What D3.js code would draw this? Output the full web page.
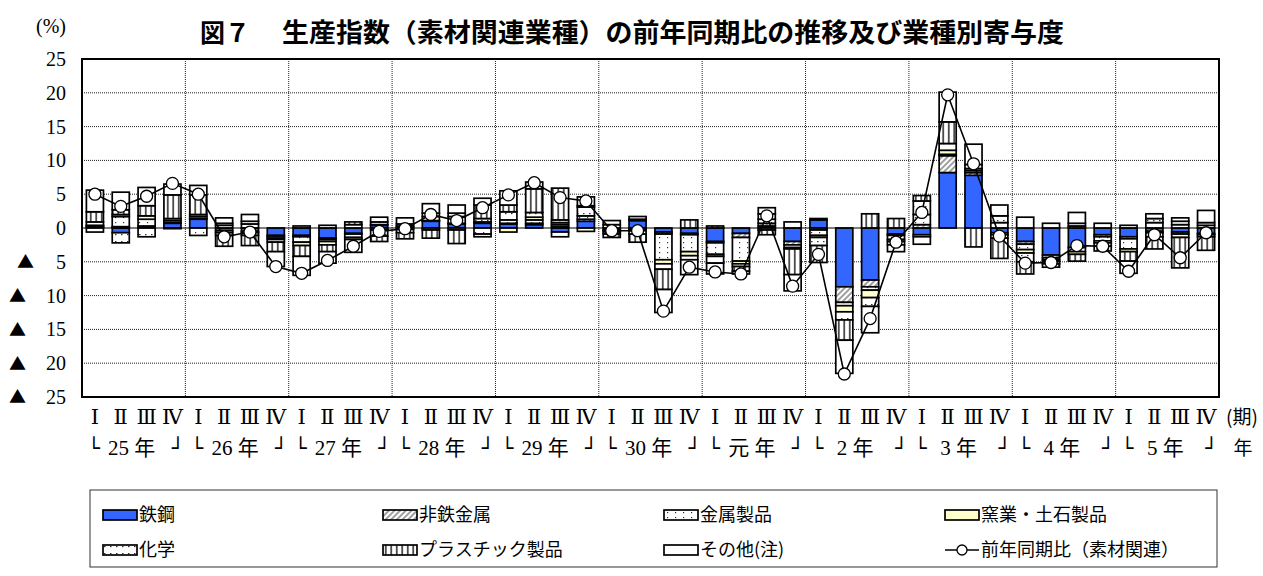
<!DOCTYPE html>
<html lang="ja">
<head>
<meta charset="utf-8">
<script src="https://cdn.jsdelivr.net/npm/d3@7"></script>
<style>
  body { margin: 0; background: #fff; }
  svg { display: block; }
</style>
</head>
<body>
<div id="vis"></div>
<script>
// quarters H25 I .. R5 IV
const years = ["25 年", "26 年", "27 年", "28 年", "29 年", "30 年",
    "元 年", "2 年", "3 年", "4 年", "5 年"];
const quarterNames = ["Ⅰ", "Ⅱ", "Ⅲ", "Ⅳ"];

const steel = [0.2, -0.7, 0, 0.7, 1.3, -0.4, -0.5, -1.1, -1.1, -1.5, -0.8, 0.4,
    0.2, 1.0, 0.6, 0.7, 0.6, 0.5, -0.6, 1.0, -0.3, 1.1, -0.6, -0.8,
    -2.0, -0.8, 0.3, -2.0, 1.2, -8.7, -7.7, -0.9, -1.0, 8.2, 7.8, -0.7,
    -2.0, -4.0, -2.9, -1.0, -1.3, -0.5, -0.6, -0.8];
const nonferrous = [0.1, 0.2, 0.3, 0.1, 0.1, -0.3, -0.2, -0.1, -0.2, -0.2, -0.1, 0.1,
    0.1, 0.1, 0.1, 0.2, 0.1, 0.2, 0.2, 0.3, -0.1, -0.2, -0.3, -0.2,
    -0.2, -0.6, 0.4, -0.5, -0.3, -2.3, -1.0, -0.2, 0.5, 2.5, 0.4, -0.3,
    -0.4, -0.4, 0.3, -0.3, -0.3, -0.2, -0.3, -0.2];
const metal = [-0.6, 1.5, 1.0, -0.1, -1.1, 0.4, 0.6, -0.3, -0.8, -0.3, -0.5, 0.4,
    0.3, 0.6, 1.0, -0.9, 0.5, 0.5, 0.3, 0.5, 0.5, 0.2, -3.8, -2.5,
    -1.7, -3.5, 0.6, -0.4, -0.8, -0.5, -0.5, -0.6, 1.5, 0.2, 0.3, 0.8,
    -0.8, -0.3, -0.6, -0.6, -1.5, 0.8, 0.5, 0.4];
const ceramics = [0.1, 0.3, 0.5, 0.3, 0.3, -0.4, -0.4, -0.2, -0.5, -0.5, -0.3, -0.3,
    -0.2, -0.3, -0.3, -0.4, -0.6, 0.4, 0.3, -0.5, -0.2, -0.2, -0.6, -0.6,
    -0.3, -0.4, -0.3, -0.2, -0.3, -0.9, -1.1, -0.3, -0.3, 0.6, 0.3, -0.5,
    -0.5, -0.2, -0.4, -0.3, -0.4, -0.6, -0.5, -0.3];
const chemical = [0.5, -1.5, -1.3, 0.3, 0.3, 0.3, 0.4, -0.4, 0.3, 0.4, 0.5, -0.9,
    -0.5, 0.5, 0.5, 0.5, 1.2, 0.7, 0.4, 1.3, -0.3, -0.5, -0.8, -0.6,
    -1.0, -0.4, 0.8, 0.9, -1.2, -1.2, -1.3, -0.5, 2.0, 1.0, 0.6, 1.0,
    -1.3, -0.4, 0.4, -0.5, 0.4, 0.6, 0.5, 0.4];
const plastic = [1.5, 0.7, 1.5, 3.5, 2.9, -1.6, -1.5, -1.4, -1.6, -1.0, 0.4, -0.8,
    -0.9, -1.2, -2.0, 2.0, 1.0, 3.5, 4.7, 0.2, -0.5, -1.2, -3.0, 1.2,
    0.3, -0.7, -0.7, -3.8, -2.5, -3.0, 2.1, 1.4, 0.8, 3.2, -2.8, -3.0,
    -1.8, -0.5, -1.0, -0.7, -1.4, -1.8, -4.5, -2.0];
const other = [3.2, 2.6, 2.7, 1.6, 1.4, 0.8, 1.0, -2.2, -2.8, -1.7, -1.9, 0.7,
    0.9, 1.4, 1.2, 1.0, 2.1, 1.0, -0.7, 1.3, 0.6, 0.4, -3.4, -2.2,
    -1.6, -0.4, 0.9, -2.4, 0.2, -4.9, -3.9, -1.0, -1.1, 4.4, 3.0, 1.6,
    1.6, 0.7, 1.6, 0.7, -1.8, 0.7, 0.5, 1.8];
// 前年同期比（素材関連）
const total = [5.0, 3.2, 4.7, 6.6, 5.0, -1.3, -0.6, -5.7, -6.7, -4.8, -2.7, -0.5,
    -0.1, 2.0, 1.1, 3.0, 4.9, 6.7, 4.5, 4.0, -0.4, -0.4, -12.3, -5.8,
    -6.5, -6.8, 1.8, -8.6, -3.9, -21.6, -13.4, -2.1, 2.3, 19.7, 9.5, -1.2,
    -5.2, -5.1, -2.6, -2.7, -6.4, -1.0, -4.4, -0.7];
const yTicks = [25, 20, 15, 10, 5, 0, -5, -10, -15, -20, -25];

const keys = ["steel", "nonferrous", "metal", "ceramics", "chemical", "plastic", "other"];
const names = ["鉄鋼", "非鉄金属", "金属製品", "窯業・土石製品", "化学", "プラスチック製品", "その他(注)"];
const fills = ["#3366ff", "url(#p-hatch)", "url(#p-metal)", "#ffffcc", "url(#p-chem)", "url(#p-plastic)", "#ffffff"];

let width = 1263;
let height = 576;
let plotLeft = 82, plotRight = 1219, plotTop = 59, plotBottom = 397;

var rows = total.map(function (t, i) {
    return {
        i: i, steel: steel[i], nonferrous: nonferrous[i], metal: metal[i], ceramics: ceramics[i],
        chemical: chemical[i], plastic: plastic[i], other: other[i], total: t
    };
});

var svg = d3.select("#vis")
    .append("svg")
    .attr("width", width)
    .attr("height", height);

// fill patterns
var defs = svg.append("defs");
var hatch = defs.append("pattern").attr("id", "p-hatch")
    .attr("patternUnits", "userSpaceOnUse").attr("width", 4).attr("height", 4)
    .attr("patternTransform", "rotate(45)");
hatch.append("rect").attr("width", 4).attr("height", 4).attr("fill", "#fff");
hatch.append("line").attr("x1", 1).attr("x2", 1).attr("y1", 0).attr("y2", 4)
    .attr("stroke", "#777").attr("stroke-width", 1.4);

var metalP = defs.append("pattern").attr("id", "p-metal")
    .attr("patternUnits", "userSpaceOnUse").attr("width", 8).attr("height", 5);
metalP.append("rect").attr("width", 8).attr("height", 5).attr("fill", "#fff");
metalP.append("rect").attr("x", 3).attr("y", 2).attr("width", 1.2).attr("height", 1.2).attr("fill", "#333");

var chemP = defs.append("pattern").attr("id", "p-chem")
    .attr("patternUnits", "userSpaceOnUse").attr("width", 6).attr("height", 7);
chemP.append("rect").attr("width", 6).attr("height", 7).attr("fill", "#fff");
chemP.append("rect").attr("x", 1).attr("y", 3).attr("width", 1.5).attr("height", 1.2).attr("fill", "#333");

var plasticP = defs.append("pattern").attr("id", "p-plastic")
    .attr("patternUnits", "userSpaceOnUse").attr("width", 5.5).attr("height", 4);
plasticP.append("rect").attr("width", 5.5).attr("height", 4).attr("fill", "#fff");
plasticP.append("line").attr("x1", 2.75).attr("x2", 2.75).attr("y1", 0).attr("y2", 4)
    .attr("stroke", "#000").attr("stroke-width", 1.3);

var x = d3.scaleBand()
    .domain(d3.range(total.length))
    .range([plotLeft, plotRight])
    .paddingInner(0.34)
    .paddingOuter(0.17);

var y = d3.scaleLinear()
    .domain([-25, 25])
    .range([plotBottom, plotTop]);

var step = (plotRight - plotLeft) / total.length;

// grid
svg.append("g").selectAll("line")
    .data(yTicks.filter(function (d) { return d !== 0 && Math.abs(d) !== 25; }))
    .enter().append("line")
    .attr("x1", plotLeft).attr("x2", plotRight)
    .attr("y1", function (d) { return y(d); })
    .attr("y2", function (d) { return y(d); })
    .attr("stroke", "#222").attr("stroke-width", 1).attr("stroke-dasharray", "1,1");

svg.append("g").selectAll("line")
    .data(d3.range(1, years.length))
    .enter().append("line")
    .attr("x1", function (d) { return plotLeft + d * 4 * step; })
    .attr("x2", function (d) { return plotLeft + d * 4 * step; })
    .attr("y1", plotTop).attr("y2", plotBottom)
    .attr("stroke", "#222").attr("stroke-width", 1).attr("stroke-dasharray", "1,1");

// stacked bars
var series = d3.stack()
    .keys(keys)
    .offset(d3.stackOffsetDiverging)(rows);

svg.append("g").selectAll("g")
    .data(series)
    .enter().append("g")
    .attr("fill", function (d, k) { return fills[k]; })
    .selectAll("rect")
    .data(function (d) { return d.filter(function (v) { return v[1] - v[0] !== 0; }); })
    .enter().append("rect")
    .attr("x", function (d) { return x(d.data.i); })
    .attr("width", x.bandwidth())
    .attr("y", function (d) { return y(Math.max(d[0], d[1])); })
    .attr("height", function (d) { return Math.abs(y(d[0]) - y(d[1])); })
    .attr("stroke", "#000")
    .attr("stroke-width", 1.7);

// zero line
svg.append("line")
    .attr("x1", plotLeft).attr("x2", plotRight)
    .attr("y1", y(0)).attr("y2", y(0))
    .attr("stroke", "#000").attr("stroke-width", 1);

// 前年同期比 line
var line = d3.line()
    .x(function (d) { return x(d.i) + x.bandwidth() / 2; })
    .y(function (d) { return y(d.total); });

svg.append("path")
    .datum(rows)
    .attr("d", line)
    .attr("fill", "none")
    .attr("stroke", "#000")
    .attr("stroke-width", 1.6);

svg.append("g").selectAll("circle")
    .data(rows)
    .enter().append("circle")
    .attr("cx", function (d) { return x(d.i) + x.bandwidth() / 2; })
    .attr("cy", function (d) { return y(d.total); })
    .attr("r", 6)
    .attr("fill", "#fff")
    .attr("stroke", "#000")
    .attr("stroke-width", 1.3);

// frame
svg.append("rect")
    .attr("x", plotLeft).attr("y", plotTop)
    .attr("width", plotRight - plotLeft).attr("height", plotBottom - plotTop)
    .attr("fill", "none").attr("stroke", "#000").attr("stroke-width", 2);

// y axis
var yAxis = svg.append("g")
    .attr("transform", "translate(" + plotLeft + ",0)")
    .call(d3.axisLeft(y).tickValues(yTicks).tickSize(0).tickPadding(16)
        .tickFormat(function (d) { return Math.abs(d); }));
yAxis.select(".domain").remove();
yAxis.selectAll("text")
    .attr("font-family", "'Liberation Serif', serif")
    .attr("font-size", 20)
    .attr("fill", "#000");
yAxis.selectAll(".tick").filter(function (d) { return d < 0; })
    .append("text")
    .attr("x", function (d) { return d > -10 ? -48 : -56; })
    .attr("dy", "0.35em")
    .attr("text-anchor", "end")
    .attr("font-family", "'Noto Sans CJK JP', sans-serif")
    .attr("font-size", 17)
    .attr("fill", "#000")
    .text("▲");

svg.append("text")
    .attr("x", 51).attr("y", 33)
    .attr("text-anchor", "middle")
    .attr("font-family", "'Liberation Serif', serif")
    .attr("font-size", 20)
    .text("(%)");

// x labels
svg.append("g").selectAll("text")
    .data(rows)
    .enter().append("text")
    .attr("x", function (d) { return x(d.i) + x.bandwidth() / 2; })
    .attr("y", 424)
    .attr("text-anchor", "middle")
    .attr("font-family", "'DejaVu Serif', serif")
    .attr("font-size", 21)
    .text(function (d) { return quarterNames[d.i % 4]; });

var yearG = svg.append("g").selectAll("g")
    .data(years)
    .enter().append("g")
    .attr("transform", function (d, k) {
        return "translate(" + (plotLeft + (k * 4 + 2) * step) + ",455)";
    })
    .attr("font-size", 20);
yearG.append("text")
    .attr("x", -46)
    .attr("font-family", "'DejaVu Sans', sans-serif")
    .text("└");
yearG.append("text")
    .attr("x", 50)
    .attr("text-anchor", "end")
    .attr("font-family", "'DejaVu Sans', sans-serif")
    .text("┘");
yearG.append("text")
    .attr("x", -2)
    .attr("text-anchor", "middle")
    .attr("font-family", "'Liberation Serif', 'Noto Sans CJK JP', serif")
    .attr("font-size", 21)
    .text(function (d) { return d; });

svg.append("text")
    .attr("x", 1242).attr("y", 424)
    .attr("text-anchor", "middle")
    .attr("font-family", "'Noto Sans CJK JP', sans-serif")
    .attr("font-size", 19)
    .text("(期)");
svg.append("text")
    .attr("x", 1243).attr("y", 455)
    .attr("text-anchor", "middle")
    .attr("font-family", "'Noto Sans CJK JP', sans-serif")
    .attr("font-size", 19)
    .text("年");

// title
svg.append("text")
    .attr("x", 200).attr("y", 42)
    .attr("font-family", "'Noto Sans CJK JP', sans-serif")
    .attr("font-weight", "bold")
    .attr("font-size", 25)
    .text("図７");
svg.append("text")
    .attr("x", 282).attr("y", 42)
    .attr("textLength", 782)
    .attr("lengthAdjust", "spacingAndGlyphs")
    .attr("font-family", "'Noto Sans CJK JP', sans-serif")
    .attr("font-weight", "bold")
    .attr("font-size", 26)
    .text("生産指数（素材関連業種）の前年同期比の推移及び業種別寄与度");

// legend
svg.append("rect")
    .attr("x", 90).attr("y", 490)
    .attr("width", 1127).attr("height", 77)
    .attr("fill", "#fff").attr("stroke", "#333").attr("stroke-width", 1);

var legendCols = [103, 383, 664, 945];
var legendRows = [515, 550];
var legendItems = names.map(function (n, k) { return { name: n, fill: fills[k] }; });
legendItems.push({ name: "前年同期比（素材関連）", line: true });

var lg = svg.append("g").selectAll("g")
    .data(legendItems)
    .enter().append("g")
    .attr("transform", function (d, k) {
        return "translate(" + legendCols[k % 4] + "," + legendRows[Math.floor(k / 4)] + ")";
    });

lg.filter(function (d) { return !d.line; })
    .append("rect")
    .attr("x", 0).attr("y", -5).attr("width", 34).attr("height", 10)
    .attr("fill", function (d) { return d.fill; })
    .attr("stroke", "#000").attr("stroke-width", 1.7);

var lineItem = lg.filter(function (d) { return d.line; });
lineItem.append("line")
    .attr("x1", 0).attr("x2", 34).attr("y1", 0).attr("y2", 0)
    .attr("stroke", "#000").attr("stroke-width", 1.6);
lineItem.append("circle")
    .attr("cx", 17).attr("cy", 0).attr("r", 5)
    .attr("fill", "#fff").attr("stroke", "#000").attr("stroke-width", 1.3);

lg.append("text")
    .attr("x", 36).attr("dy", "0.35em")
    .attr("font-family", "'Noto Sans CJK JP', sans-serif")
    .attr("font-size", 18)
    .text(function (d) { return d.name; });
</script>
</body>
</html>
